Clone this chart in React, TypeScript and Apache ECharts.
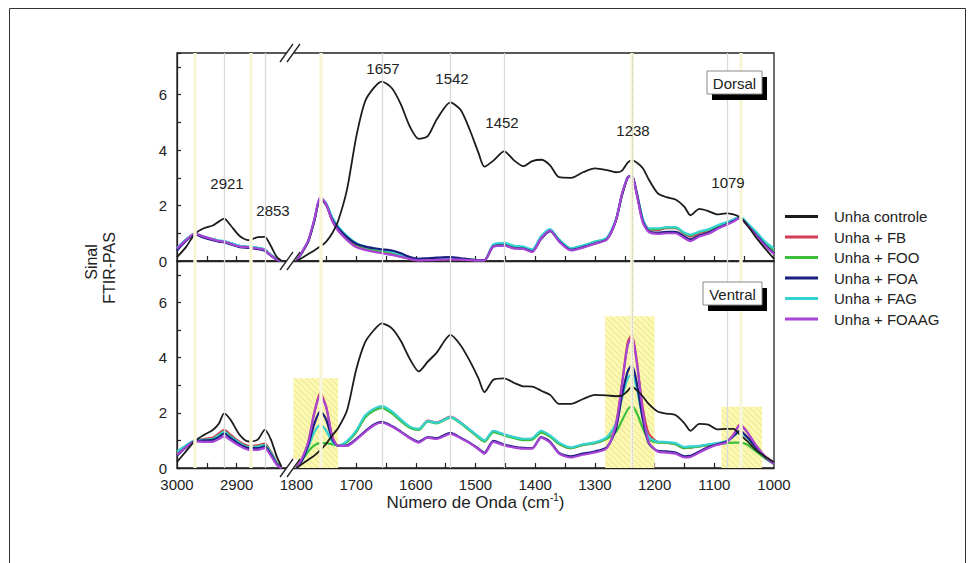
import React, { useEffect, useRef } from 'react';
import * as echarts from 'echarts';

const FONT = '"Liberation Sans", Arial, Helvetica, sans-serif';

const seriesNames = ['Unha controle', 'Unha + FB', 'Unha + FOO', 'Unha + FOA', 'Unha + FAG', 'Unha + FOAAG'];
const seriesColors = ['#1c1c1c', '#d23c55', '#3cbf3c', '#1b1f80', '#35d2d2', '#a845d6'];

// Wavenumbers (cm-1): left segment (before the axis break) and right segment
const waveLeft = [3000, 2985, 2970, 2955, 2940, 2930, 2921, 2910, 2895, 2880, 2865, 2853, 2843, 2833, 2825];
const waveRight = [
  1800, 1790, 1780, 1770, 1760, 1750, 1740, 1730, 1715, 1700,
  1685, 1670, 1657, 1640, 1625, 1610, 1595, 1580, 1565, 1542,
  1525, 1510, 1495, 1485, 1470, 1452, 1435, 1420, 1405, 1390,
  1375, 1360, 1340, 1320, 1300, 1280, 1265, 1255, 1245, 1238,
  1230, 1220, 1210, 1195, 1180, 1165, 1150, 1140, 1125, 1110,
  1095, 1080, 1068, 1057, 1045, 1030, 1015, 1000,
];

// ---- Dorsal (top panel) ----
const dorsalControleLeft = [0.14, 0.5, 0.98, 1.18, 1.28, 1.42, 1.53, 1.28, 0.9, 0.75, 0.86, 0.87, 0.55, 0.15, 0.0];
const dorsalFBLeft = [0.42, 0.75, 0.97, 0.86, 0.77, 0.72, 0.7, 0.63, 0.53, 0.5, 0.46, 0.4, 0.22, 0.06, 0.0];
const dorsalFOOLeft = [0.44, 0.76, 0.98, 0.87, 0.78, 0.73, 0.71, 0.64, 0.54, 0.51, 0.47, 0.41, 0.22, 0.06, 0.0];
const dorsalFOALeft = [0.38, 0.72, 0.96, 0.84, 0.75, 0.7, 0.67, 0.6, 0.5, 0.47, 0.43, 0.37, 0.19, 0.05, 0.0];
const dorsalFAGLeft = [0.47, 0.78, 0.99, 0.88, 0.79, 0.74, 0.72, 0.65, 0.55, 0.52, 0.48, 0.42, 0.23, 0.07, 0.0];
const dorsalFOAAGLeft = [0.45, 0.75, 0.99, 0.88, 0.78, 0.72, 0.7, 0.62, 0.52, 0.5, 0.45, 0.4, 0.2, 0.05, 0.0];

const dorsalControleRight = [
  0.0, 0.12, 0.25, 0.38, 0.52, 0.7, 1.0, 1.45, 2.6, 4.45,
  5.75, 6.25, 6.47, 6.23, 5.65, 4.85, 4.4, 4.5, 5.1, 5.72,
  5.45, 4.75, 3.9, 3.4, 3.62, 3.95, 3.62, 3.42, 3.6, 3.65,
  3.45, 3.02, 3.0, 3.2, 3.34, 3.28, 3.2, 3.25, 3.55, 3.64,
  3.55, 3.35, 2.95, 2.45, 2.3, 2.22, 1.95, 1.65, 1.88, 1.8,
  1.68, 1.72, 1.68, 1.58, 1.3, 0.85, 0.45, 0.08,
];
const dorsalFBRight = [
  0.0, 0.33, 0.72, 1.45, 2.25, 2.02, 1.45, 1.1, 0.77, 0.52,
  0.42, 0.35, 0.3, 0.24, 0.16, 0.08, 0.03, 0.04, 0.05, 0.07,
  0.06, 0.04, 0.03, 0.03, 0.55, 0.58, 0.48, 0.47, 0.36, 0.85,
  1.12, 0.74, 0.42, 0.52, 0.66, 0.8, 1.45, 2.35, 3.0, 3.05,
  2.45, 1.5, 1.15, 1.12, 1.18, 1.18, 0.98, 0.88, 1.0, 1.08,
  1.22, 1.35, 1.45, 1.56, 1.32, 0.98, 0.65, 0.42,
];
const dorsalFOORight = [
  0.0, 0.33, 0.72, 1.45, 2.25, 2.05, 1.52, 1.2, 0.85, 0.6,
  0.48, 0.4, 0.36, 0.3, 0.2, 0.1, 0.04, 0.06, 0.08, 0.1,
  0.08, 0.05, 0.03, 0.03, 0.56, 0.6, 0.5, 0.48, 0.38, 0.86,
  1.12, 0.76, 0.45, 0.55, 0.7, 0.82, 1.45, 2.35, 3.0, 3.05,
  2.45, 1.5, 1.15, 1.15, 1.2, 1.2, 1.0, 0.92, 1.05, 1.12,
  1.25, 1.38, 1.48, 1.58, 1.35, 1.0, 0.62, 0.35,
];
const dorsalFOARight = [
  0.0, 0.33, 0.72, 1.45, 2.25, 2.02, 1.5, 1.18, 0.85, 0.62,
  0.52, 0.46, 0.42, 0.38, 0.28, 0.14, 0.08, 0.1, 0.12, 0.14,
  0.1, 0.06, 0.03, 0.03, 0.52, 0.56, 0.46, 0.45, 0.34, 0.8,
  1.08, 0.72, 0.4, 0.5, 0.63, 0.78, 1.45, 2.35, 3.02, 3.08,
  2.45, 1.45, 1.08, 1.02, 1.05, 1.05, 0.88, 0.78, 0.92, 1.02,
  1.18, 1.32, 1.44, 1.56, 1.3, 0.95, 0.58, 0.28,
];
const dorsalFAGRight = [
  0.0, 0.34, 0.74, 1.48, 2.28, 2.08, 1.58, 1.25, 0.9, 0.65,
  0.52, 0.45, 0.4, 0.34, 0.24, 0.12, 0.05, 0.06, 0.08, 0.1,
  0.08, 0.05, 0.03, 0.03, 0.6, 0.65, 0.55, 0.52, 0.42, 0.9,
  1.15, 0.78, 0.46, 0.56, 0.7, 0.84, 1.5, 2.38, 3.02, 3.05,
  2.48, 1.55, 1.18, 1.18, 1.22, 1.22, 1.02, 0.95, 1.06, 1.14,
  1.28, 1.4, 1.5, 1.6, 1.38, 1.05, 0.7, 0.45,
];
const dorsalFOAAGRight = [
  0.0, 0.35, 0.75, 1.5, 2.3, 2.05, 1.45, 1.1, 0.75, 0.5,
  0.4, 0.33, 0.28, 0.22, 0.15, 0.07, 0.02, 0.03, 0.04, 0.06,
  0.05, 0.03, 0.02, 0.02, 0.52, 0.55, 0.45, 0.44, 0.33, 0.82,
  1.1, 0.7, 0.38, 0.48, 0.62, 0.78, 1.45, 2.4, 3.0, 3.08,
  2.4, 1.4, 1.05, 0.98, 1.0, 1.0, 0.82, 0.72, 0.88, 0.98,
  1.15, 1.3, 1.42, 1.55, 1.3, 0.92, 0.55, 0.25,
];

// ---- Ventral (bottom panel) ----
const ventralControleLeft = [0.22, 0.6, 0.98, 1.2, 1.38, 1.6, 1.98, 1.74, 1.2, 0.96, 1.02, 1.38, 1.05, 0.42, 0.05];
const ventralFBLeft = [0.55, 0.8, 1.0, 1.05, 1.1, 1.25, 1.38, 1.2, 0.95, 0.8, 0.82, 0.88, 0.6, 0.2, 0.0];
const ventralFOOLeft = [0.5, 0.78, 0.98, 1.02, 1.06, 1.2, 1.32, 1.15, 0.9, 0.76, 0.78, 0.84, 0.57, 0.18, 0.0];
const ventralFOALeft = [0.45, 0.75, 0.98, 1.0, 1.02, 1.12, 1.25, 1.08, 0.85, 0.72, 0.72, 0.78, 0.5, 0.15, 0.0];
const ventralFAGLeft = [0.6, 0.82, 1.0, 1.02, 1.05, 1.18, 1.3, 1.12, 0.9, 0.75, 0.77, 0.82, 0.55, 0.18, 0.0];
const ventralFOAAGLeft = [0.48, 0.75, 0.96, 0.95, 0.95, 1.05, 1.15, 1.0, 0.8, 0.66, 0.66, 0.72, 0.45, 0.12, 0.0];

const ventralControleRight = [
  0.0, 0.15, 0.3, 0.45, 0.65, 0.88, 1.18, 1.45, 2.1, 3.55,
  4.55, 5.0, 5.24, 5.06, 4.6, 3.95, 3.5, 3.85, 4.18, 4.82,
  4.45, 3.9, 3.25, 2.75, 3.2, 3.25, 3.08, 2.96, 2.95, 2.8,
  2.65, 2.32, 2.32, 2.5, 2.65, 2.63, 2.6, 2.62, 2.8, 2.95,
  2.82, 2.6, 2.32, 2.05, 1.97, 1.92, 1.62, 1.35, 1.6, 1.57,
  1.4, 1.42, 1.42, 1.21, 0.98, 0.65, 0.42, 0.22,
];
const ventralFBRight = [
  0.0, 0.35, 0.95, 2.0, 2.72, 2.2, 1.15, 0.8, 0.95, 1.3,
  1.85, 2.1, 2.2, 2.0, 1.72, 1.48, 1.4, 1.72, 1.65, 1.86,
  1.65, 1.38, 1.12, 0.97, 1.33, 1.2, 1.1, 1.03, 1.05, 1.32,
  1.15, 0.88, 0.72, 0.84, 0.9, 1.08, 1.6, 3.0, 4.55, 4.82,
  3.9, 2.2, 1.25, 0.95, 0.92, 0.86, 0.72, 0.74, 0.78, 0.84,
  0.88, 0.95, 1.2, 1.58, 1.3, 0.8, 0.42, 0.18,
];
const ventralFOORight = [
  0.0, 0.3, 0.6, 0.82, 0.9, 0.9, 0.86, 0.82, 0.95, 1.3,
  1.83, 2.08, 2.18, 1.98, 1.7, 1.46, 1.38, 1.68, 1.62, 1.82,
  1.62, 1.36, 1.1, 0.95, 1.3, 1.18, 1.08, 1.01, 1.03, 1.28,
  1.13, 0.87, 0.72, 0.84, 0.9, 1.06, 1.3, 1.7, 2.12, 2.25,
  2.0, 1.45, 1.05, 0.92, 0.91, 0.86, 0.72, 0.74, 0.78, 0.84,
  0.88, 0.9, 0.92, 0.92, 0.85, 0.6, 0.35, 0.15,
];
const ventralFOARight = [
  0.0, 0.3, 0.85, 1.6, 2.05, 1.75, 1.05, 0.8, 0.82, 1.05,
  1.33, 1.58, 1.67, 1.52, 1.32, 1.1, 0.95, 1.12, 1.08, 1.27,
  1.1, 0.92, 0.7, 0.55, 0.98, 0.85, 0.77, 0.73, 0.72, 1.12,
  0.95, 0.55, 0.42, 0.52, 0.6, 0.75, 1.4, 2.6, 3.5, 3.72,
  3.1, 1.8, 0.9, 0.62, 0.6, 0.56, 0.42, 0.44, 0.6, 0.76,
  0.86, 0.95, 1.15, 1.35, 1.12, 0.75, 0.4, 0.15,
];
const ventralFAGRight = [
  0.0, 0.3, 0.75, 1.3, 1.55, 1.35, 0.95, 0.8, 0.98, 1.35,
  1.9, 2.15, 2.24, 2.05, 1.76, 1.5, 1.42, 1.7, 1.64, 1.84,
  1.64, 1.4, 1.15, 1.0, 1.35, 1.22, 1.12, 1.06, 1.08, 1.35,
  1.18, 0.92, 0.75, 0.86, 0.93, 1.12, 1.6, 2.5, 3.25, 3.4,
  2.9, 1.8, 1.12, 0.95, 0.94, 0.9, 0.76, 0.78, 0.8, 0.86,
  0.9, 0.98, 1.15, 1.3, 1.1, 0.75, 0.4, 0.18,
];
const ventralFOAAGRight = [
  0.0, 0.38, 0.95, 2.0, 2.62, 2.2, 1.15, 0.8, 0.8, 1.02,
  1.3, 1.55, 1.64, 1.5, 1.3, 1.08, 0.92, 1.1, 1.05, 1.24,
  1.08, 0.9, 0.68, 0.52, 0.95, 0.82, 0.74, 0.7, 0.7, 1.1,
  0.92, 0.52, 0.38, 0.48, 0.56, 0.72, 1.55, 2.95, 4.45, 4.72,
  3.85, 2.1, 0.95, 0.6, 0.56, 0.52, 0.38, 0.4, 0.56, 0.72,
  0.84, 0.92, 1.2, 1.55, 1.3, 0.82, 0.42, 0.15,
];

const xLabelValues = [3000, 2900, 1800, 1700, 1600, 1500, 1400, 1300, 1200, 1100, 1000];
const xTickValues = [2950, 2900, 1750, 1700, 1650, 1600, 1550, 1500, 1450, 1400, 1350, 1300, 1250, 1200, 1150, 1100, 1050];
const grayGuides = [2921, 2853, 1657, 1542, 1452, 1079];
const yellowGuides = [2970, 2877, 1760, 1238, 1055];
const hatchAreas = [
  [1805, 1730, 3.25],
  [1283, 1200, 5.5],
  [1088, 1020, 2.22],
];
const peakLabels = ['2921', '2853', '1657', '1542', '1452', '1238', '1079'];

// broken axis: 3000..2800 then 1800..1000 mapped to a continuous coordinate
function toT(w: number) {
  return w > 2400 ? 3000 - w : 2000 - w;
}
function fromT(t: number) {
  return t < 200 ? 3000 - t : 2000 - t;
}

function makeData(left: number[], right: number[]) {
  const d: any[] = waveLeft.map((w, i) => [toT(w), left[i]]);
  d.push([188, '-']);
  waveRight.forEach((w, i) => d.push([toT(w), right[i]]));
  return d;
}

const panels = [
  {
    left: [dorsalControleLeft, dorsalFBLeft, dorsalFOOLeft, dorsalFOALeft, dorsalFAGLeft, dorsalFOAAGLeft],
    right: [dorsalControleRight, dorsalFBRight, dorsalFOORight, dorsalFOARight, dorsalFAGRight, dorsalFOAAGRight],
  },
  {
    left: [ventralControleLeft, ventralFBLeft, ventralFOOLeft, ventralFOALeft, ventralFAGLeft, ventralFOAAGLeft],
    right: [ventralControleRight, ventralFBRight, ventralFOORight, ventralFOARight, ventralFAGRight, ventralFOAAGRight],
  },
];

function breakMark(cy: number) {
  return [
    {
      type: 'polygon',
      z: 50,
      shape: { points: [[280, cy + 9], [287, cy + 9], [300, cy - 9], [293, cy - 9]] },
      style: { fill: '#fff', stroke: null },
    },
    { type: 'line', z: 51, shape: { x1: 280, y1: cy + 9, x2: 293, y2: cy - 9 }, style: { stroke: '#222', lineWidth: 1.3 } },
    { type: 'line', z: 51, shape: { x1: 287, y1: cy + 9, x2: 300, y2: cy - 9 }, style: { stroke: '#222', lineWidth: 1.3 } },
  ];
}

function labelBox(text: string, x: number, y: number, w: number, h: number) {
  return [
    { type: 'rect', z: 60, shape: { x: x + 5, y: y + 6, width: w, height: h }, style: { fill: '#000' } },
    { type: 'rect', z: 61, shape: { x, y, width: w, height: h }, style: { fill: '#fff', stroke: '#888', lineWidth: 1 } },
    {
      type: 'text',
      z: 62,
      x: x + w / 2,
      y: y + h / 2 + 1,
      style: { text, fill: '#222', font: `15px ${FONT}`, align: 'center', verticalAlign: 'middle' },
    },
  ];
}

export default function App() {
  const ref = useRef<HTMLDivElement>(null);

  useEffect(() => {
    if (!ref.current) return;
    const chart = echarts.init(ref.current, undefined, { renderer: 'svg' });

    const c = document.createElement('canvas');
    c.width = 6;
    c.height = 6;
    const ctx = c.getContext('2d');
    if (ctx) {
      ctx.fillStyle = '#fbf8b2';
      ctx.fillRect(0, 0, 6, 6);
      ctx.strokeStyle = '#ebe28a';
      ctx.lineWidth = 1;
      ctx.beginPath();
      ctx.moveTo(0, 0);
      ctx.lineTo(6, 6);
      ctx.moveTo(-3, 3);
      ctx.lineTo(3, 9);
      ctx.moveTo(3, -3);
      ctx.lineTo(9, 3);
      ctx.stroke();
    }
    const hatch: any = { image: c, repeat: 'repeat' };

    const drawOrder = [1, 2, 4, 3, 5, 0];
    const series: any[] = [];
    panels.forEach((p, pi) => {
      series.push({
        type: 'line',
        name: 'guides' + pi,
        xAxisIndex: pi,
        yAxisIndex: pi,
        data: [[0, '-']],
        z: 1,
        silent: true,
        symbol: 'none',
        markLine: {
          silent: true,
          symbol: ['none', 'none'],
          label: { show: false },
          data: [
            ...yellowGuides.map((w) => ({ xAxis: toT(w), lineStyle: { color: '#f8f6d8', width: 3.5, type: 'solid' } })),
            ...grayGuides.map((w) => ({ xAxis: toT(w), lineStyle: { color: '#dadada', width: 1.3, type: 'solid' } })),
            { xAxis: toT(1238), lineStyle: { color: '#c4c4b4', width: 1, type: 'dotted' } },
          ],
        },
        markArea:
          pi === 1
            ? {
                silent: true,
                itemStyle: { color: hatch, opacity: 1 },
                data: hatchAreas.map(([a, b, h]) => [
                  { xAxis: toT(a), yAxis: 0 },
                  { xAxis: toT(b), yAxis: h },
                ]),
              }
            : undefined,
      });
      drawOrder.forEach((si) => {
        series.push({
          type: 'line',
          name: seriesNames[si],
          xAxisIndex: pi,
          yAxisIndex: pi,
          data: makeData(p.left[si], p.right[si]),
          symbol: 'none',
          smooth: 0.25,
          z: 3,
          lineStyle: { color: seriesColors[si], width: si === 0 ? 1.8 : 2.2 },
          itemStyle: { color: seriesColors[si] },
          emphasis: { disabled: true },
        });
      });
    });

    const axisLine = { show: true, lineStyle: { color: '#222', width: 1.3 } };

    const option: any = {
      animation: false,
      backgroundColor: '#fff',
      textStyle: { fontFamily: FONT },
      grid: [
        { left: 177, top: 53, width: 597, height: 208, show: true, borderColor: '#222', borderWidth: 1.3, backgroundColor: 'transparent' },
        { left: 177, top: 261, width: 597, height: 207, show: true, borderColor: '#222', borderWidth: 1.3, backgroundColor: 'transparent' },
      ],
      xAxis: [0, 1].map((i) => ({
        type: 'value',
        gridIndex: i,
        min: 0,
        max: 1000,
        axisLine,
        axisTick: {
          show: true,
          inside: true,
          length: 5,
          customValues: xTickValues.map(toT),
          lineStyle: { color: '#222', width: 1.2 },
        },
        axisLabel: {
          show: i === 1,
          customValues: xLabelValues.map(toT),
          formatter: (v: number) => String(fromT(v)),
          fontSize: 15,
          lineHeight: 15,
          color: '#222',
          margin: 9,
          fontFamily: FONT,
          hideOverlap: false,
        },
        splitLine: { show: false },
        name: i === 1 ? 'Número de Onda (cm{sup|-1})' : undefined,
        nameLocation: 'middle',
        nameGap: 24,
        nameTextStyle: {
          fontSize: 17,
          color: '#222',
          fontFamily: FONT,
          rich: { sup: { fontSize: 10, padding: [0, 0, 9, 0], color: '#222', fontFamily: FONT } },
        },
      })),
      yAxis: [0, 1].map((i) => ({
        type: 'value',
        gridIndex: i,
        min: 0,
        max: 7.5,
        interval: 1,
        axisLine,
        axisTick: { show: true, inside: true, length: 4, lineStyle: { color: '#222', width: 1.2 } },
        axisLabel: {
          formatter: (v: number) => (v % 2 === 0 ? String(v) : ''),
          fontSize: 15,
          lineHeight: 13,
          color: '#222',
          margin: 10,
          fontFamily: FONT,
        },
        splitLine: { show: false },
      })),
      legend: {
        data: seriesNames,
        orient: 'vertical',
        left: 780,
        top: 204,
        icon: 'rect',
        itemWidth: 33,
        itemHeight: 3,
        itemGap: 5.5,
        selectedMode: false,
        textStyle: { fontSize: 15, lineHeight: 15, color: '#222', fontFamily: FONT, padding: [0, 0, 0, 11] },
      },
      graphic: [
        {
          type: 'rect',
          z: 0,
          shape: { x: 9.5, y: 8.5, width: 956, height: 620 },
          style: { fill: 'none', stroke: '#333', lineWidth: 1 },
        },
        ...breakMark(53),
        ...breakMark(261),
        ...breakMark(468),
        ...labelBox('Dorsal', 707, 71, 55, 23),
        ...labelBox('Ventral', 703, 282, 59, 23),
        ...[
          [227, 183],
          [273, 210],
          [383, 68],
          [452, 78],
          [502, 122],
          [633, 130],
          [728, 182],
        ].map(([x, y], i) => ({
          type: 'text',
          z: 40,
          x,
          y,
          style: { text: peakLabels[i], fill: '#222', font: `15px ${FONT}`, align: 'center', verticalAlign: 'middle' },
        })),
        {
          type: 'text',
          z: 40,
          x: 91,
          y: 262,
          rotation: Math.PI / 2,
          style: { text: 'Sinal', fill: '#222', font: `16px ${FONT}`, align: 'center', verticalAlign: 'middle' },
        },
        {
          type: 'text',
          z: 40,
          x: 109,
          y: 268,
          rotation: Math.PI / 2,
          style: { text: 'FTIR-PAS', fill: '#222', font: `16px ${FONT}`, align: 'center', verticalAlign: 'middle' },
        },
      ],
      series,
    };

    chart.setOption(option);
    return () => chart.dispose();
  }, []);

  return (
    <div
      ref={ref}
      style={{ position: 'absolute', left: 0, top: 0, width: 974, height: 563, background: '#fff' }}
    />
  );
}
